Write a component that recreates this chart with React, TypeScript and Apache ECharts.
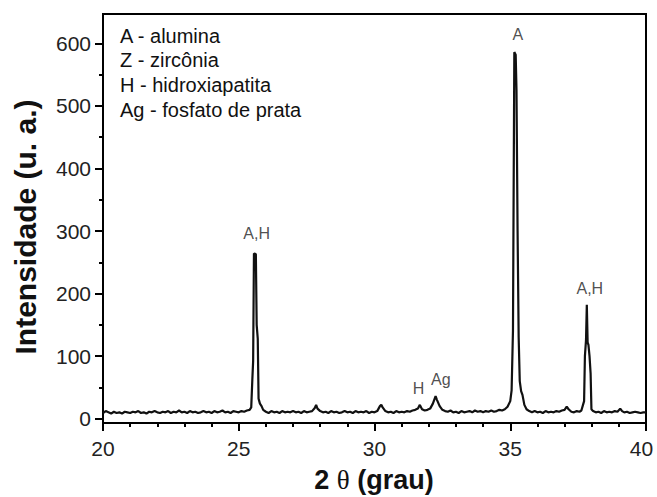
import React, { useEffect, useRef } from "react";
import * as echarts from "echarts";

// Diffraction pattern: 2θ (degrees) and intensity (u. a.)
const twoTheta: number[] = [
  20.0, 20.1, 20.2, 20.3, 20.4, 20.5, 20.6, 20.7, 20.8, 20.9,
  21.0, 21.1, 21.2, 21.3, 21.4, 21.5, 21.6, 21.7, 21.8, 21.9,
  22.0, 22.1, 22.2, 22.3, 22.4, 22.5, 22.6, 22.7, 22.8, 22.9,
  23.0, 23.1, 23.2, 23.3, 23.4, 23.5, 23.6, 23.7, 23.8, 23.9,
  24.0, 24.1, 24.2, 24.3, 24.4, 24.5, 24.6, 24.7, 24.8, 24.9,
  25.0, 25.1, 25.2, 25.3, 25.4, 25.46, 25.5, 25.53, 25.56, 25.63, 25.66, 25.7, 25.73, 25.78, 25.84, 25.9,
  26.0, 26.1, 26.2, 26.3, 26.4, 26.5, 26.6, 26.7, 26.8, 26.9,
  27.0, 27.1, 27.2, 27.3, 27.4, 27.5, 27.6, 27.7, 27.8, 27.85, 27.9,
  28.0, 28.1, 28.2, 28.3, 28.4, 28.5, 28.6, 28.7, 28.8, 28.9,
  29.0, 29.1, 29.2, 29.3, 29.4, 29.5, 29.6, 29.7, 29.8, 29.9,
  30.0, 30.1, 30.2, 30.25, 30.3, 30.4, 30.5, 30.6, 30.7, 30.8, 30.9,
  31.0, 31.1, 31.2, 31.3, 31.4, 31.5, 31.6, 31.67, 31.75, 31.85, 31.95,
  32.05, 32.15, 32.25, 32.3, 32.4, 32.5, 32.6, 32.7, 32.8, 32.9,
  33.0, 33.1, 33.2, 33.3, 33.4, 33.5, 33.6, 33.7, 33.8, 33.9,
  34.0, 34.1, 34.2, 34.3, 34.4, 34.5, 34.6, 34.7, 34.8, 34.9,
  35.0, 35.05, 35.1, 35.15, 35.2, 35.23, 35.27, 35.31, 35.35, 35.4, 35.45, 35.52, 35.6, 35.7, 35.8, 35.9,
  36.0, 36.1, 36.2, 36.3, 36.4, 36.5, 36.6, 36.7, 36.8, 36.9,
  37.0, 37.08, 37.15, 37.25, 37.35, 37.45, 37.55, 37.62, 37.68, 37.72, 37.75, 37.79, 37.82, 37.85, 37.88, 37.92, 37.96, 37.99,
  38.05, 38.15, 38.25, 38.35, 38.45, 38.55, 38.65, 38.75, 38.85, 38.95,
  39.05, 39.12, 39.2, 39.3, 39.4, 39.5, 39.6, 39.7, 39.8, 39.9, 40.0,
];

const intensity: number[] = [
  9, 12, 10, 8, 11, 9, 10, 8, 11, 10,
  9, 11, 10, 12, 9, 10, 8, 11, 10, 12,
  10, 9, 11, 10, 12, 9, 11, 10, 13, 10,
  11, 9, 12, 10, 11, 9, 10, 12, 10, 11,
  9, 12, 10, 11, 13, 10, 11, 9, 12, 11,
  10, 12, 11, 13, 14, 18, 62, 92, 264, 263, 150, 128, 32, 24, 20, 14,
  11, 9, 12, 10, 11, 9, 12, 10, 11, 10,
  12, 10, 11, 9, 12, 10, 11, 12, 17, 22, 16,
  12, 10, 11, 9, 12, 10, 11, 9, 10, 12,
  10, 11, 9, 12, 10, 11, 10, 12, 9, 11,
  10, 12, 20, 22, 18, 12, 10, 11, 9, 12, 10,
  11, 10, 12, 11, 13, 14, 16, 22, 15, 13, 14,
  16, 24, 36, 30, 20, 14, 12, 11, 13, 10,
  11, 9, 12, 10, 11, 12, 10, 13, 11, 12,
  10, 12, 11, 13, 11, 12, 14, 13, 15, 19,
  28, 45, 140, 586, 582, 525, 300, 130, 60, 44, 38, 22, 15, 12, 10, 12,
  10, 11, 9, 12, 10, 11, 10, 12, 11, 13,
  14, 19, 15, 11, 10, 12, 11, 13, 22, 28, 100, 125, 182, 122, 118, 100, 72, 15,
  12, 10, 11, 9, 12, 10, 11, 10, 12, 11,
  16, 12, 10, 11, 9, 10, 11, 10, 9, 10, 10,
];

const xTicks = { min: 20, max: 40, step: 5 };
const yMajorTicks: number[] = [0, 100, 200, 300, 400, 500, 600];
const yMinorTicks: number[] = [50, 150, 250, 350, 450, 550];

const peakLabels: string[] = ["A,H", "A", "H", "Ag", "A,H"];
const peakLabelX: number[] = [25.66, 35.28, 31.62, 32.44, 37.93];
const peakLabelY: number[] = [296, 615, 48, 63, 208];

const legendLines: string[] = [
  "A - alumina",
  "Z - zircônia",
  "H - hidroxiapatita",
  "Ag - fosfato de prata",
];

const FONT = "'Liberation Sans', Arial, Helvetica, sans-serif";

export default function App() {
  const ref = useRef<HTMLDivElement>(null);

  useEffect(() => {
    if (!ref.current) return;
    const chart = echarts.init(ref.current, undefined, { renderer: "svg" });

    const lineData = twoTheta.map((x, i) => [x, intensity[i]]);
    const labelData = peakLabels.map((n, i) => ({
      name: n,
      value: [peakLabelX[i], peakLabelY[i]],
    }));

    const option: any = {
      animation: false,
      backgroundColor: "#fff",
      grid: {
        left: 103,
        right: 11,
        top: 14,
        bottom: 74,
        show: true,
        borderColor: "#000",
        borderWidth: 2,
        backgroundColor: "transparent",
        containLabel: false,
        outerBoundsMode: "none",
      },
      xAxis: {
        type: "value",
        min: xTicks.min,
        max: xTicks.max,
        interval: xTicks.step,
        axisLine: { show: true, onZero: false, lineStyle: { color: "#000", width: 2 } },
        axisTick: { show: true, inside: false, length: 8, lineStyle: { color: "#000", width: 2 } },
        minorTick: { show: true, splitNumber: 5, length: 4, lineStyle: { color: "#000", width: 2 } },
        axisLabel: {
          fontSize: 21,
          color: "#222",
          margin: 15,
          fontFamily: FONT,
          formatter: (v: number) => (v === xTicks.max ? "{e|" + v + "}" : String(v)),
          rich: {
            e: { fontSize: 21, color: "#222", fontFamily: FONT, padding: [0, 9, 0, 0] },
          },
        },
        splitLine: { show: false },
        minorSplitLine: { show: false },
      },
      yAxis: [
        {
          type: "value",
          position: "left",
          min: -7,
          max: 647,
          axisLine: { show: true, onZero: false, lineStyle: { color: "#000", width: 2 } },
          axisTick: {
            show: true,
            inside: false,
            length: 8,
            customValues: yMajorTicks,
            lineStyle: { color: "#000", width: 2 },
          },
          axisLabel: {
            fontSize: 21,
            color: "#222",
            margin: 12,
            fontFamily: FONT,
            customValues: yMajorTicks,
          },
          splitLine: { show: false },
        },
        {
          type: "value",
          position: "left",
          min: -7,
          max: 647,
          axisLine: { show: false },
          axisTick: {
            show: true,
            inside: false,
            length: 4,
            customValues: yMinorTicks,
            lineStyle: { color: "#000", width: 2 },
          },
          axisLabel: { show: false },
          splitLine: { show: false },
        },
      ],
      series: [
        {
          type: "line",
          data: lineData,
          showSymbol: false,
          symbol: "none",
          lineStyle: { color: "#111", width: 2.2 },
          silent: true,
          z: 3,
        },
        {
          type: "scatter",
          data: labelData,
          symbolSize: 0,
          silent: true,
          label: {
            show: true,
            position: "inside",
            formatter: "{b}",
            fontSize: 16,
            color: "#222",
            fontFamily: FONT,
          },
          z: 4,
        },
      ],
      graphic: [
        ...legendLines.map((t, i) => ({
          type: "text",
          x: 120,
          y: 35.5 + i * 24.8,
          style: {
            text: t,
            fontSize: 20,
            fontFamily: FONT,
            fill: "#111",
            align: "left",
            verticalAlign: "middle",
          },
        })),
        {
          type: "text",
          x: 25,
          y: 227,
          rotation: Math.PI / 2,
          style: {
            text: "Intensidade (u. a.)",
            fontSize: 30,
            fontWeight: "bold",
            fontFamily: FONT,
            fill: "#111",
            align: "center",
            verticalAlign: "middle",
          },
        },
        {
          type: "text",
          x: 374,
          y: 480,
          style: {
            text: "{b|2 }{t|θ}{b| (grau)}",
            align: "center",
            verticalAlign: "middle",
            rich: {
              b: { fontSize: 27, fontWeight: "bold", fontFamily: FONT, fill: "#111" },
              t: { fontSize: 27, fontWeight: "normal", fontFamily: "'Liberation Serif', serif", fill: "#111" },
            },
          },
        },
      ],
    };

    chart.setOption(option);
    return () => chart.dispose();
  }, []);

  return (
    <div
      ref={ref}
      style={{ position: "fixed", left: 0, top: 0, width: 657, height: 497, background: "#fff" }}
    />
  );
}
